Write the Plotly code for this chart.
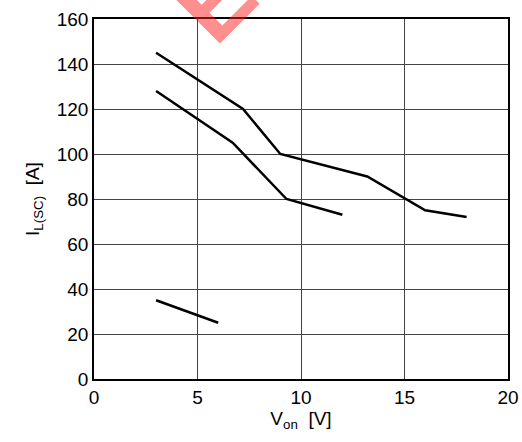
import plotly.graph_objects as go

# Data
x_upper = [3.0, 7.2, 9.0, 13.2, 16.0, 18.0]
y_upper = [145, 120, 100, 90, 75, 72]
x_middle = [3.0, 6.7, 9.3, 12.0]
y_middle = [128, 105, 80, 73]
x_lower = [3.0, 6.0]
y_lower = [35, 25]

x_ticks = [0, 5, 10, 15, 20]
y_ticks = [0, 20, 40, 60, 80, 100, 120, 140, 160]

fig = go.Figure()
for xs, ys in [(x_upper, y_upper), (x_middle, y_middle), (x_lower, y_lower)]:
    fig.add_trace(go.Scatter(x=xs, y=ys, mode="lines",
                             line=dict(color="black", width=2.5),
                             showlegend=False, hoverinfo="skip"))

font_family = "Liberation Sans, Arial, sans-serif"
axis_common = dict(
    showline=True, linecolor="black", linewidth=1.5, mirror=True,
    showgrid=True, gridcolor="#444444", gridwidth=1,
    zeroline=False, ticks="", automargin=False,
    tickfont=dict(size=19, color="black", family=font_family),
)
fig.update_xaxes(range=[0, 20], tickvals=x_ticks,
                 title=dict(text="V<sub>on</sub>  [V]", font=dict(size=19, color="black", family=font_family), standoff=4),
                 **axis_common)
fig.update_yaxes(range=[0, 160], tickvals=y_ticks,
                 title=dict(text="I<sub>L(SC)</sub>  [A]", font=dict(size=19, color="black", family=font_family), standoff=12),
                 **axis_common)

# Partial watermark at the top
fig.add_annotation(text="<b>E</b>", xref="paper", yref="paper",
                   x=(148 - 94) / 414, y=(379 + 66) / 360,
                   showarrow=False, textangle=-45,
                   font=dict(size=100, color="rgba(255,30,30,0.5)", family=font_family))

fig.update_layout(
    width=522, height=442,
    margin=dict(l=94, r=14, t=19, b=63),
    paper_bgcolor="white", plot_bgcolor="white",
    font=dict(family=font_family, color="black"),
)
fig.write_html("out.html")
